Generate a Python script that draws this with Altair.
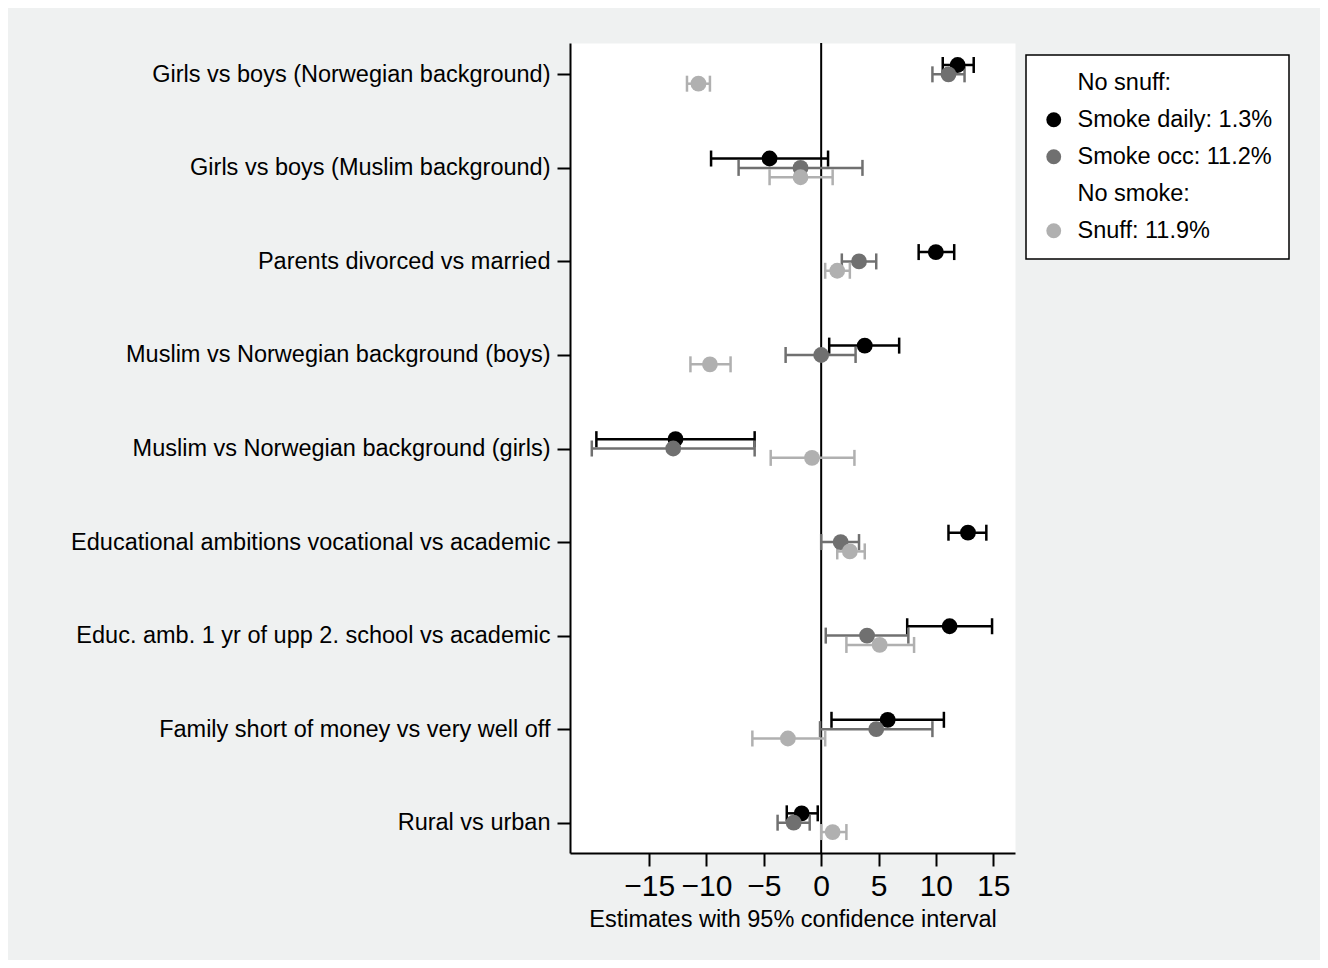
import json
import altair as alt
import pandas as pd

categories = [
    "Girls vs boys (Norwegian background)",
    "Girls vs boys (Muslim background)",
    "Parents divorced vs married",
    "Muslim vs Norwegian background (boys)",
    "Muslim vs Norwegian background (girls)",
    "Educational ambitions vocational vs academic",
    "Educ. amb. 1 yr of upp 2. school vs academic",
    "Family short of money vs very well off",
    "Rural vs urban",
]

series = ["Smoke daily: 1.3%", "Smoke occ: 11.2%", "Snuff: 11.9%"]
legend_entries = ["No snuff:", series[0], series[1], "No smoke:", series[2]]
legend_colors = ["rgba(0,0,0,0)", "#000000", "#707070", "rgba(0,0,0,0)", "#b0b0b0"]

daily_est = [11.9, -4.5, 10.0, 3.8, -12.7, 12.8, 11.2, 5.8, -1.7]
daily_lo = [10.6, -9.6, 8.5, 0.7, -19.6, 11.1, 7.5, 0.9, -3.0]
daily_hi = [13.3, 0.6, 11.6, 6.8, -5.8, 14.4, 14.9, 10.7, -0.3]

occ_est = [11.1, -1.8, 3.3, 0.0, -12.9, 1.7, 4.0, 4.8, -2.4]
occ_lo = [9.7, -7.2, 1.8, -3.1, -20.0, 0.0, 0.4, -0.1, -3.8]
occ_hi = [12.5, 3.6, 4.8, 3.0, -5.8, 3.3, 7.6, 9.7, -1.0]

snuff_est = [-10.7, -1.8, 1.4, -9.7, -0.8, 2.5, 5.1, -2.9, 1.0]
snuff_lo = [-11.7, -4.5, 0.35, -11.4, -4.4, 1.4, 2.2, -6.0, 0.0]
snuff_hi = [-9.7, 1.0, 2.5, -7.9, 2.9, 3.8, 8.1, 0.35, 2.2]

x_ticks = [-15, -10, -5, 0, 5, 10, 15]
zero_line = [0]

# vertical dodge of the three series within each category row
dodge = {series[0]: -0.1, series[1]: 0.0, series[2]: 0.1}

rows = []
for s, est, lo, hi in [
    (series[0], daily_est, daily_lo, daily_hi),
    (series[1], occ_est, occ_lo, occ_hi),
    (series[2], snuff_est, snuff_lo, snuff_hi),
]:
    for i, c in enumerate(categories):
        rows.append(dict(series=s, cat=c, pos=i + 1 + dodge[s],
                         est=est[i], lo=lo[i], hi=hi[i]))
df = pd.DataFrame(rows)

FONT = "Liberation Sans"

xscale = alt.Scale(domain=[-21.9, 16.9], nice=False, zero=False)
xaxis = alt.Axis(values=x_ticks, title="Estimates with 95% confidence interval",
                 grid=False, labelFontSize=30, labelPadding=5, tickSize=13,
                 titleFontSize=23.5, titlePadding=6, labelFlush=False,
                 labelOverlap=False)
yscale = alt.Scale(domain=[0.665, 9.324], reverse=True, nice=False, zero=False)
label_expr = json.dumps(categories) + "[round(datum.value) - 1]"
yaxis = alt.Axis(values=list(range(1, len(categories) + 1)), labelExpr=label_expr,
                 title=None, grid=False, labelFontSize=23.5, labelPadding=7,
                 tickSize=13, labelLimit=700)

series_colors = legend_colors[1:3] + legend_colors[4:5]

base = alt.Chart(df).encode(
    y=alt.Y("pos:Q", scale=yscale, axis=yaxis),
)

zero = alt.Chart(pd.DataFrame({"x": zero_line})).mark_rule(
    color="black", strokeWidth=2
).encode(x=alt.X("x:Q", scale=xscale, axis=xaxis))

ci = base.mark_rule(strokeWidth=2.5).encode(
    x=alt.X("lo:Q", scale=xscale, axis=xaxis),
    x2="hi:Q",
    stroke=alt.Stroke("series:N", scale=alt.Scale(domain=series, range=series_colors),
                      legend=None),
)

cap_lo = base.mark_tick(orient="vertical", size=16, thickness=2.5, opacity=1).encode(
    x=alt.X("lo:Q", scale=xscale, axis=xaxis),
    fill=alt.Fill("series:N", scale=alt.Scale(domain=series, range=series_colors),
                  legend=None),
)
cap_hi = base.mark_tick(orient="vertical", size=16, thickness=2.5, opacity=1).encode(
    x=alt.X("hi:Q", scale=xscale, axis=xaxis),
    fill=alt.Fill("series:N", scale=alt.Scale(domain=series, range=series_colors),
                  legend=None),
)

points = base.mark_circle(size=250, opacity=1).encode(
    x=alt.X("est:Q", scale=xscale, axis=xaxis),
    color=alt.Color(
        "series:N", scale=alt.Scale(domain=legend_entries, range=legend_colors),
        legend=alt.Legend(title=None, orient="none", legendX=456, legendY=12),
    ),
)

chart = alt.layer(zero, ci, cap_lo, cap_hi, points).properties(
    width=445,
    height=810,
    autosize=alt.AutoSizeParams(type="none"),
    padding={"left": 562, "top": 35, "right": 305, "bottom": 107},
    background="#eff1f1",
).configure(font=FONT).configure_view(
    fill="white", stroke="transparent"
).configure_axis(
    labelFont=FONT, titleFont=FONT, labelColor="black", titleColor="black",
    domainColor="black", tickColor="black", domainWidth=2, tickWidth=2,
    titleFontWeight="normal",
).configure_legend(
    labelFont=FONT, labelFontSize=23.5, labelColor="black", symbolType="circle",
    symbolSize=220, symbolStrokeWidth=0, rowPadding=12, labelOffset=12,
    padding=16, strokeColor="black", strokeWidth=1.5, fillColor="white",
    cornerRadius=0, labelLimit=400,
)

chart.save("out.html", embed_options={"renderer": "svg", "actions": False})
